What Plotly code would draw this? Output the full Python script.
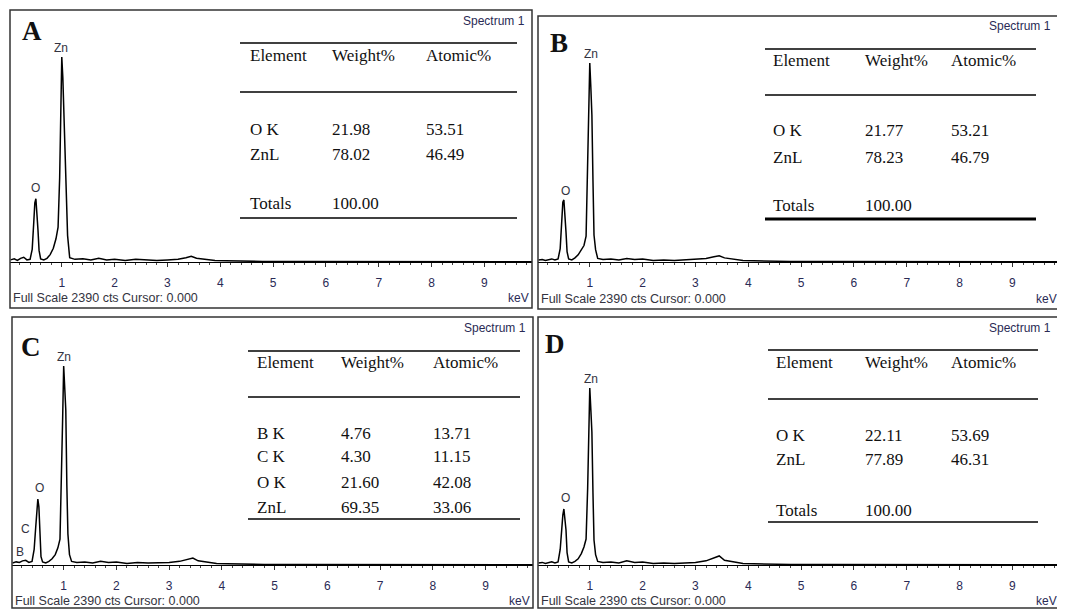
import plotly.graph_objects as go

# ---------------- data ----------------
energy_kev = [0.03, 0.10, 0.16, 0.22, 0.28, 0.34, 0.40, 0.44, 0.47, 0.49, 0.51, 0.53, 0.55, 0.57, 0.60,
              0.66, 0.72, 0.78, 0.84, 0.89, 0.93, 0.96, 0.98, 1.00, 1.02, 1.04, 1.06, 1.08, 1.11, 1.15,
              1.25, 1.40, 1.55, 1.70, 1.85, 2.00, 2.20, 2.40, 2.60, 2.80, 3.00, 3.20, 3.35, 3.45, 3.55,
              3.70, 3.90, 4.10, 4.40, 4.80, 5.5, 6.5, 7.5, 8.5, 9.5, 9.9]

counts_A = [20, 30, 15, 35, 45, 20, 25, 120, 380, 560, 600, 470, 300, 110, 30,
            20, 35, 70, 130, 220, 330, 800, 1500, 1945, 1750, 1420, 900, 700, 250, 40,
            25, 30, 20, 35, 20, 25, 15, 25, 20, 15, 20, 25, 40, 55, 35,
            25, 15, 12, 8, 5, 4, 3, 3, 3, 3, 3]
counts_B = [20, 25, 15, 25, 30, 20, 30, 130, 400, 580, 603, 480, 290, 100, 30,
            20, 40, 70, 120, 160, 250, 870, 1500, 1934, 1700, 1430, 800, 262, 120, 35,
            25, 30, 20, 35, 25, 30, 15, 20, 15, 20, 25, 35, 50, 60, 40,
            30, 15, 12, 8, 5, 4, 3, 3, 3, 3, 3]
counts_C = [20, 30, 25, 40, 45, 25, 35, 150, 366, 500, 636, 560, 212, 80, 30,
            20, 35, 60, 100, 165, 250, 840, 1400, 1918, 1750, 1494, 770, 300, 100, 35,
            25, 30, 20, 35, 25, 30, 15, 25, 20, 20, 25, 35, 55, 67, 40,
            30, 15, 12, 8, 5, 4, 3, 3, 3, 3, 3]
counts_D = [20, 25, 15, 25, 30, 20, 30, 150, 366, 480, 540, 450, 337, 120, 30,
            20, 35, 60, 110, 174, 250, 742, 1400, 1706, 1500, 1282, 700, 241, 100, 35,
            25, 30, 20, 40, 25, 30, 15, 20, 15, 20, 25, 40, 70, 87, 45,
            35, 15, 12, 8, 5, 4, 3, 3, 3, 3, 3]

panel_letters = ["A", "B", "C", "D"]
tick_values = [1, 2, 3, 4, 5, 6, 7, 8, 9]
full_scale_text = "Full Scale 2390 cts Cursor: 0.000"
spectrum_title = "Spectrum 1"
table_header = ["Element", "Weight%", "Atomic%"]

elements_A = ["O K", "ZnL"]
weight_A = ["21.98", "78.02"]
atomic_A = ["53.51", "46.49"]
elements_B = ["O K", "ZnL"]
weight_B = ["21.77", "78.23"]
atomic_B = ["53.21", "46.79"]
elements_C = ["B K", "C K", "O K", "ZnL"]
weight_C = ["4.76", "4.30", "21.60", "69.35"]
atomic_C = ["13.71", "11.15", "42.08", "33.06"]
elements_D = ["O K", "ZnL"]
weight_D = ["22.11", "77.89"]
atomic_D = ["53.69", "46.31"]
totals_label = "Totals"
totals_value = "100.00"

peak_labels_A = ["Zn", "O"]
peak_labels_B = ["Zn", "O"]
peak_labels_C = ["Zn", "O", "C", "B"]
peak_labels_D = ["Zn", "O"]

# ---------------- layout helpers ----------------
# the page body has an 8px margin, so the figure is made 8px smaller and
# all target pixel positions are shifted by that offset
OFF = 8
W, H = 1065 - OFF, 610 - OFF


def px(x):
    return (x - OFF) / W


def py(y):
    return 1 - (y - OFF) / H


panels = [
    dict(letter=panel_letters[0], counts=counts_A, left=10, right=532, top=10, bottom=308, base=262,
         elements=elements_A, weight=weight_A, atomic=atomic_A, totals=True,
         tab=dict(x0=240, x1=517, top=43, mid=92, bot=218, bw=1.6, head=55, rows=[129, 154], tot=203,
                  cols=[248, 330, 424]),
         letter_pos=(32, 31), peaks=peak_labels_A, peak_pos=[(61, 48), (35, 188)],
         spec_pos=(527, 21), fs_y=298, tick_y=280),
    dict(letter=panel_letters[1], counts=counts_B, left=538, right=1060, top=16, bottom=309, base=262,
         elements=elements_B, weight=weight_B, atomic=atomic_B, totals=True,
         tab=dict(x0=765, x1=1036, top=49, mid=95, bot=219, bw=3.2, head=61, rows=[131, 157], tot=205,
                  cols=[771, 863, 949]),
         letter_pos=(559, 43), peaks=peak_labels_B, peak_pos=[(591, 54), (565, 191)],
         spec_pos=(1053, 26), fs_y=299, tick_y=282),
    dict(letter=panel_letters[2], counts=counts_C, left=12, right=533, top=317, bottom=608, base=565,
         elements=elements_C, weight=weight_C, atomic=atomic_C, totals=False,
         tab=dict(x0=248, x1=520, top=351, mid=397, bot=519, bw=1.6, head=362,
                  rows=[433, 457, 482, 507], tot=None, cols=[255, 339, 431]),
         letter_pos=(31, 347), peaks=peak_labels_C,
         peak_pos=[(64, 357), (39, 488), (25, 529), (20, 552)],
         spec_pos=(528, 328), fs_y=601, tick_y=583),
    dict(letter=panel_letters[3], counts=counts_D, left=538, right=1060, top=317, bottom=608, base=565,
         elements=elements_D, weight=weight_D, atomic=atomic_D, totals=True,
         tab=dict(x0=768, x1=1038, top=350, mid=399, bot=522, bw=1.6, head=362, rows=[435, 459], tot=510,
                  cols=[774, 863, 949]),
         letter_pos=(555, 344), peaks=peak_labels_D, peak_pos=[(591, 379), (565, 498)],
         spec_pos=(1053, 328), fs_y=601, tick_y=583),
]

SANS = "Liberation Sans, Arial, sans-serif"
SERIF = "Liberation Serif, Times New Roman, serif"
TXT = "#333340"
NAVY = "#2a2a55"

fig = go.Figure()
shapes = []
annotations = []
layout_axes = {}

for i, p in enumerate(panels, start=1):
    xa = "x" if i == 1 else f"x{i}"
    ya = "y" if i == 1 else f"y{i}"
    fig.add_trace(go.Scatter(x=energy_kev, y=p["counts"], mode="lines",
                             line=dict(color="black", width=1.5),
                             xaxis=xa, yaxis=ya, showlegend=False, hoverinfo="skip"))
    layout_axes["xaxis" if i == 1 else f"xaxis{i}"] = dict(
        domain=[px(p["left"]), px(p["right"])], range=[0.02, 9.9], anchor=ya,
        showgrid=False, zeroline=False, showline=True, linecolor="black", linewidth=1,
        tickmode="array", tickvals=tick_values, ticks="outside", ticklen=4, tickwidth=1,
        tickcolor="#333", ticklabelstandoff=6,
        tickfont=dict(family=SANS, size=12, color=NAVY),
        minor=dict(ticks="outside", ticklen=2, tickwidth=1, tickcolor="#444", dtick=0.2, tick0=0,
                   showgrid=False),
        fixedrange=True)
    layout_axes["yaxis" if i == 1 else f"yaxis{i}"] = dict(
        domain=[py(p["base"]), py(p["top"])], range=[0, 2390], anchor=xa, visible=False,
        fixedrange=True)

    # panel frame
    shapes.append(dict(type="rect", xref="paper", yref="paper",
                       x0=px(p["left"]), x1=px(p["right"]), y0=py(p["bottom"]), y1=py(p["top"]),
                       line=dict(color="#333", width=1.5), fillcolor="rgba(0,0,0,0)", layer="above"))

    # table lines
    t = p["tab"]
    for yy, wd in ((t["top"], 1.6), (t["mid"], 1.6), (t["bot"], t["bw"])):
        shapes.append(dict(type="line", xref="paper", yref="paper",
                           x0=px(t["x0"]), x1=px(t["x1"]), y0=py(yy), y1=py(yy),
                           line=dict(color="black", width=wd)))

    def txt(x, y, s, font, xanchor="left", yanchor="middle"):
        annotations.append(dict(x=px(x), y=py(y), xref="paper", yref="paper", text=s,
                                showarrow=False, xanchor=xanchor, yanchor=yanchor, font=font))

    tfont = dict(family=SERIF, size=17, color="#111")
    for c, h in zip(t["cols"], table_header):
        txt(c, t["head"], h, tfont)
    for r, (e, w, a) in enumerate(zip(p["elements"], p["weight"], p["atomic"])):
        yy = t["rows"][r]
        txt(t["cols"][0], yy, e, tfont)
        txt(t["cols"][1], yy, w, tfont)
        txt(t["cols"][2], yy, a, tfont)
    if p["totals"]:
        txt(t["cols"][0], t["tot"], totals_label, tfont)
        txt(t["cols"][1], t["tot"], totals_value, tfont)

    # panel letter
    txt(p["letter_pos"][0], p["letter_pos"][1], "<b>" + p["letter"] + "</b>",
        dict(family=SERIF, size=27, color="#111"), xanchor="center")
    # peak labels
    for lab, (lx, ly) in zip(p["peaks"], p["peak_pos"]):
        txt(lx, ly, lab, dict(family=SANS, size=12, color=TXT), xanchor="center")
    # spectrum title
    txt(p["spec_pos"][0], p["spec_pos"][1], spectrum_title, dict(family=SANS, size=12, color=NAVY),
        xanchor="right")
    # footer
    txt(p["left"] + 1, p["fs_y"], full_scale_text, dict(family=SANS, size=12.5, color=TXT))
    txt(p["right"] - 1, p["fs_y"], "keV", dict(family=SANS, size=12, color=NAVY), xanchor="right")

fig.update_layout(width=W, height=H, margin=dict(l=0, r=0, t=0, b=0),
                  paper_bgcolor="white", plot_bgcolor="rgba(0,0,0,0)",
                  shapes=shapes, annotations=annotations, **layout_axes)

fig.write_html("out.html", include_plotlyjs=True, config=dict(displayModeBar=False))
